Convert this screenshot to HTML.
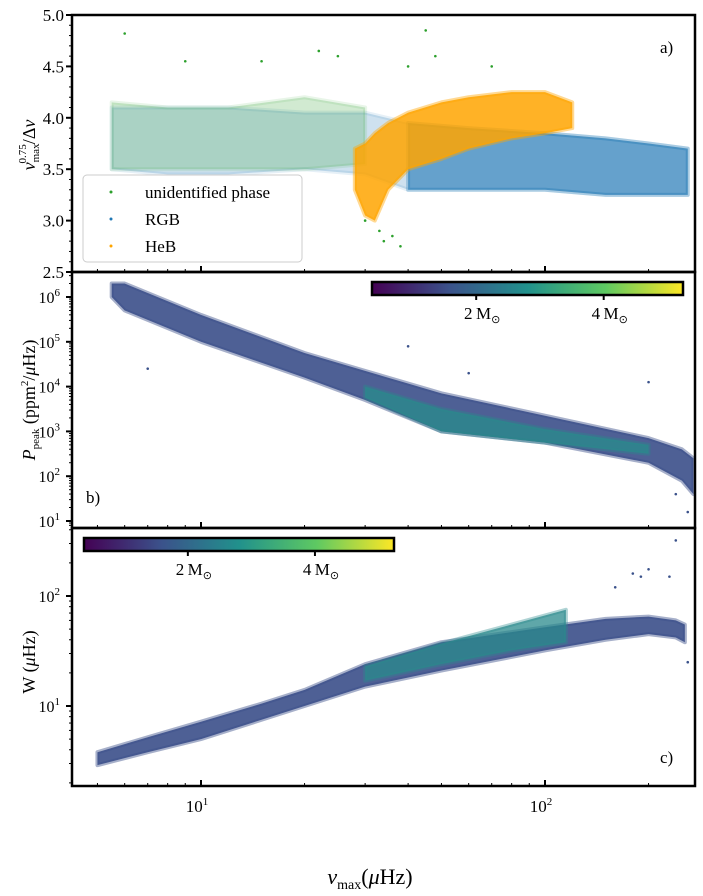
<!DOCTYPE html>
<html><head><meta charset="utf-8"><style>
body{margin:0;background:#fff}
svg{display:block;font-family:"Liberation Serif",serif}
</style></head><body>
<svg id="chart" width="703" height="896" viewBox="0 0 703 896">
<defs>
<linearGradient id="vir" x1="0" x2="1" y1="0" y2="0">
<stop offset="0" stop-color="#440154"/><stop offset="0.25" stop-color="#3b528b"/><stop offset="0.5" stop-color="#21918c"/><stop offset="0.75" stop-color="#5ec962"/><stop offset="1" stop-color="#fde725"/>
</linearGradient>
</defs>
</svg>
<script>
// ---- data ----
const nuA = [5.5, 8, 12, 20, 30, 40, 60, 100, 150, 200, 260];
const unidLo = [3.5, 3.5, 3.5, 3.5, 3.55, null, null, null, null, null, null];
const unidHi = [4.15, 4.1, 4.1, 4.2, 4.1, null, null, null, null, null, null];
const rgbLo = [3.5, 3.45, 3.45, 3.5, 3.45, 3.3, 3.3, 3.3, 3.25, 3.25, 3.25];
const rgbHi = [4.1, 4.1, 4.1, 4.05, 4.05, 3.95, 3.9, 3.85, 3.8, 3.75, 3.7];
const nuHeB = [28, 30, 32, 35, 40, 50, 60, 80, 100, 120];
const hebLo = [3.3, 3.05, 3.0, 3.3, 3.5, 3.6, 3.7, 3.8, 3.85, 3.9];
const hebHi = [3.7, 3.75, 3.85, 3.95, 4.05, 4.15, 4.2, 4.25, 4.25, 4.15];
const outA_nu = [6, 9, 15, 22, 25, 33, 45, 40, 48, 70, 38, 36, 30, 34];
const outA_y = [4.82, 4.55, 4.55, 4.65, 4.6, 2.9, 4.85, 4.5, 4.6, 4.5, 2.75, 2.85, 3.0, 2.8];

const nuB = [5.5, 6, 10, 20, 30, 50, 100, 200, 250, 270];
const pLo = [6.0, 5.7, 5.0, 4.2, 3.7, 3.0, 2.75, 2.3, 1.9, 1.6];
const pHi = [6.3, 6.3, 5.6, 4.75, 4.35, 3.85, 3.35, 2.85, 2.6, 2.4];
const pTealLo = [null, null, null, null, 3.75, 3.0, 2.75, 2.5, null, null];
const pTealHi = [null, null, null, null, 4.0, 3.5, 3.05, 2.7, null, null];
const outB_nu = [7, 32, 40, 60, 200, 260, 240];
const outB_p = [4.4, 6.1, 4.9, 4.3, 4.1, 1.2, 1.6];

const nuC = [5, 7, 10, 15, 20, 30, 50, 100, 150, 200, 240, 255];
const wLo = [2.9, 3.8, 5.0, 7.5, 10, 15, 21, 32, 40, 45, 42, 38];
const wHi = [3.8, 5.2, 7.2, 10.5, 14, 24, 38, 52, 62, 65, 60, 55];
const nuTeal = [30, 50, 80, 115];
const wTealLo = [17, 24, 32, 38];
const wTealHi = [23, 37, 55, 75];
const outC_nu = [240, 200, 180, 190, 160, 230, 260];
const outC_w = [320, 175, 160, 150, 120, 150, 25];

const cbTicks = ['2', '4'];

// ---- scales ----
const X0 = 72, X1 = 695;
const lx = v => 201 + (Math.log10(v) - 1) * 344;
const yA = v => 272 - (v - 2.5) * 102.8;
const yB = lv => 297 + (6 - lv) * 44.8;
const yC = v => 596 + (2 - Math.log10(v)) * 110;

const svg = document.getElementById('chart');
const NS = 'http://www.w3.org/2000/svg';
function mk(tag, attrs, parent) {
  const e = document.createElementNS(NS, tag);
  for (const k in attrs) e.setAttribute(k, attrs[k]);
  (parent || svg).appendChild(e);
  return e;
}
function band(xs, lo, hi, ys, xf, color, op, name) {
  const top = [], bot = [];
  xs.forEach((x, i) => {
    if (lo[i] == null) return;
    top.push([xf(x), ys(hi[i])]);
    bot.push([xf(x), ys(lo[i])]);
  });
  const pts = top.concat(bot.reverse()).map(p => p.join(',')).join(' ');
  const p = mk('polygon', {points: pts, fill: color, 'fill-opacity': op, stroke: color, 'stroke-opacity': op * 0.5, 'stroke-width': 4, 'stroke-linejoin': 'round'});
  
  
}
function dots(xs, ys, xf, yf, color, name) {
  xs.forEach((x, i) => {
    const c = mk('circle', {cx: xf(x), cy: yf(ys[i]), r: 1.3, fill: color});
    
    
  });
}

// panel a
band(nuA, rgbLo, rgbHi, yA, lx, '#1f77b4', 0.22, 'rgb-region');
band(nuA, unidLo, unidHi, yA, lx, '#2ca02c', 0.22, 'unidentified-region');
band(nuA.slice(5), rgbLo.slice(5), rgbHi.slice(5), yA, lx, '#1f77b4', 0.6, 'rgb-dense-region');
band(nuHeB, hebLo, hebHi, yA, lx, '#ffa500', 0.85, 'heb-region');
dots(outA_nu, outA_y, lx, yA, '#2ca02c', 'outlier-point');
// panel b
band(nuB, pLo, pHi, yB, lx, '#3b4f8a', 0.9, 'ppeak-region');
band(nuB, pTealLo, pTealHi, yB, lx, '#2a8a8c', 0.8, 'ppeak-highmass-region');
dots(outB_nu, outB_p, lx, yB, '#3b528b', 'outlier-point');
// panel c
band(nuC, wLo, wHi, yC, lx, '#3b4f8a', 0.9, 'width-region');
band(nuTeal, wTealLo, wTealHi, yC, lx, '#2a8a8c', 0.75, 'width-highmass-region');
dots(outC_nu, outC_w, lx, yC, '#3b528b', 'outlier-point');

// frames & ticks
const panels = [[15, 272], [272, 528], [528, 786]];
panels.forEach((p, i) => {
  const r = mk('rect', {x: X0, y: p[0], width: X1 - X0, height: p[1] - p[0], fill: 'none', stroke: '#000', 'stroke-width': 2.5});
  
  
  for (let d = 0; d <= 2; d++) for (let m = 1; m <= 9; m++) {
    const v = m * Math.pow(10, d); if (v < 4.3 || v > 275) continue;
    const x = lx(v), len = m === 1 ? 6 : 3;
    mk('line', {x1: x, x2: x, y1: p[1], y2: p[1] - len, stroke: '#000', 'stroke-width': m === 1 ? 2 : 1});
  }
});
for (let v = 2.5; v <= 5.001; v += 0.1) {
  const major = Math.abs(v * 2 - Math.round(v * 2)) < 1e-6;
  mk('line', {x1: X0, x2: X0 - (major ? 6 : 3), y1: yA(v), y2: yA(v), stroke: '#000', 'stroke-width': major ? 2 : 1});
  if (major) { const t = mk('text', {x: 64, y: yA(v) + 6, 'text-anchor': 'end', 'font-size': 17}); t.textContent = v.toFixed(1);   }
}
function logTicks(yf, dmin, dmax, lo, hi) {
  for (let d = dmin; d <= dmax; d++) for (let m = 1; m <= 9; m++) {
    const lv = d + Math.log10(m); if (lv < lo || lv > hi) continue;
    const y = yf(lv);
    mk('line', {x1: X0, x2: X0 - (m === 1 ? 6 : 3), y1: y, y2: y, stroke: '#000', 'stroke-width': m === 1 ? 2 : 1});
    if (m === 1) {
      const t = mk('text', {x: 60, y: y + 6, 'text-anchor': 'end', 'font-size': 16});
      
      
      t.innerHTML = '10<tspan dy="-7" font-size="11">' + d + '</tspan>';
    }
  }
}
logTicks(yB, 0, 6, 0.85, 6.55);
logTicks(lv => yC(Math.pow(10, lv)), 0, 2, 0.27, 2.62);
[1, 2].forEach(d => {
  const t = mk('text', {x: lx(Math.pow(10, d)) - 4, y: 812, 'text-anchor': 'middle', 'font-size': 17});
  
  
  t.innerHTML = '10<tspan dy="-7" font-size="11">' + d + '</tspan>';
});

function colorbar(x, y, w, name) {
  const r = mk('rect', {x: x, y: y, width: w, height: 13, fill: 'url(#vir)', stroke: '#000', 'stroke-width': 2.5});
  
  
  cbTicks.forEach((m, i) => {
    const tx = x + w * (i === 0 ? 0.335 : 0.745);
    mk('line', {x1: tx, x2: tx, y1: y + 13, y2: y + 18, stroke: '#000', 'stroke-width': 2});
    const t = mk('text', {x: tx + 6, y: y + 37, 'text-anchor': 'middle', 'font-size': 17});
    
    
    t.innerHTML = m + '\u2009M<tspan dy="4" font-size="11">\u2299</tspan>';
  });
}
colorbar(372, 282, 311, 'colorbar-b');
colorbar(84, 538, 310, 'colorbar-c');
</script>
<div style="position:absolute;left:0;top:0;width:703px;height:896px;pointer-events:none">
<svg width="703" height="896" style="position:absolute;left:0;top:0;font-family:'Liberation Serif',serif">
  <g>
    <rect x="83" y="175" width="219" height="87" rx="4" fill="#fff" fill-opacity="0.85" stroke="#ccc"/>
    <circle cx="111" cy="192" r="1.5" fill="#2ca02c"/>
    <text x="145" y="198" font-size="17">unidentified phase</text>
    <circle cx="111" cy="219" r="1.5" fill="#1f77b4"/>
    <text x="145" y="225" font-size="17">RGB</text>
    <circle cx="111" cy="246" r="1.5" fill="#ffa500"/>
    <text x="145" y="252" font-size="17">HeB</text>
  </g>
  <text x="660" y="53" font-size="17">a)</text>
  <text x="86" y="503" font-size="17">b)</text>
  <text x="660" y="763" font-size="17">c)</text>
  <text transform="translate(35,145) rotate(-90)" text-anchor="middle" font-size="18" font-style="italic">ν<tspan font-size="11" dy="4" font-style="normal">max</tspan><tspan font-size="11" dy="-13" dx="-20" font-style="normal">0.75</tspan><tspan dy="9" font-style="normal">/Δ</tspan>ν</text>
  <text transform="translate(35,400) rotate(-90)" text-anchor="middle" font-size="18"><tspan font-style="italic">P</tspan><tspan font-size="11" dy="4">peak</tspan><tspan dy="-4"> (ppm</tspan><tspan font-size="11" dy="-7">2</tspan><tspan dy="7">/</tspan><tspan font-style="italic">μ</tspan>Hz)</text>
  <text transform="translate(35,662) rotate(-90)" text-anchor="middle" font-size="18">W (<tspan font-style="italic">μ</tspan>Hz)</text>
  <text x="370" y="884" text-anchor="middle" font-size="22"><tspan font-style="italic">ν</tspan><tspan font-size="14" dy="5">max</tspan><tspan dy="-5">(</tspan><tspan font-style="italic">μ</tspan>Hz)</text>
</svg>
</div>
</body></html>
